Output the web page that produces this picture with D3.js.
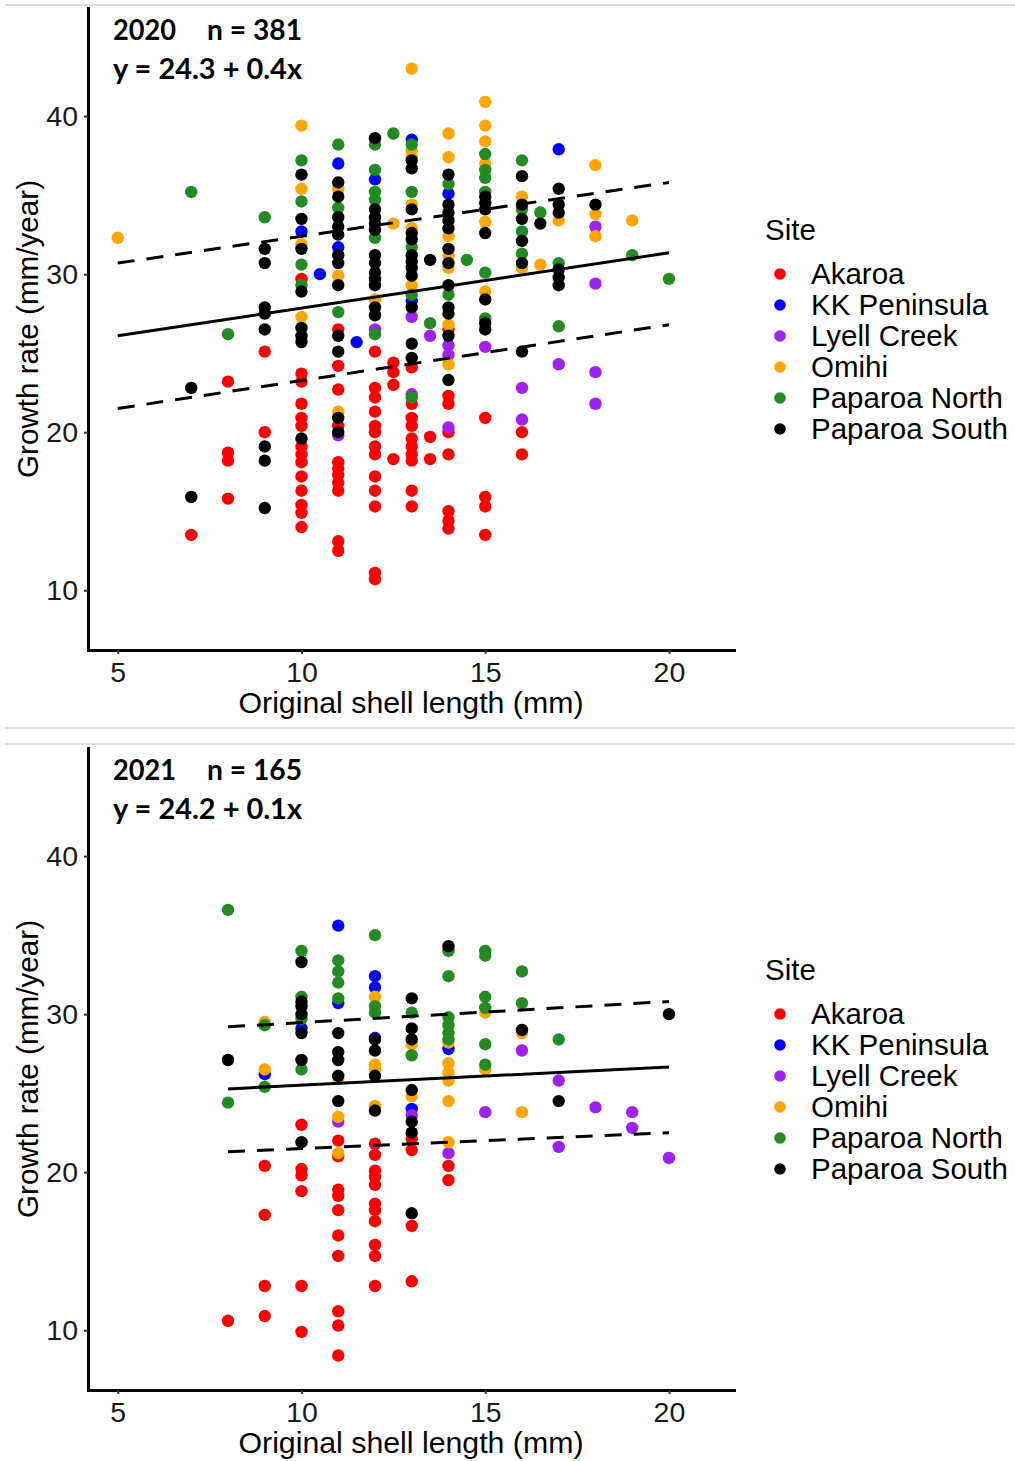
<!DOCTYPE html>
<html>
<head>
<meta charset="utf-8">
<script src="https://cdn.jsdelivr.net/npm/d3@7"></script>
<style>
  body { margin: 0; background: #fff; }
  svg { display: block; }
</style>
</head>
<body>
<svg id="chart" width="1015" height="1461"></svg>
<script>
// ---- data: [shell length, growth rate] ----
const siteNames = ["Akaroa", "KK Peninsula", "Lyell Creek", "Omihi", "Paparoa North", "Paparoa South"];
const siteColors = ["#FF0000", "#0000FF", "#A020F0", "#FFA500", "#228B22", "#000000"];

const akaroa2020 = [
  [7,13.5],[8,23.2],[8,18.7],[8,18.2],[8,15.8],[9,25.1],[9,20.0],
  [10,29.7],[10,23.7],[10,23.2],[10,21.8],[10,20.9],[10,20.4],[10,19.1],[10,18.6],[10,18.1],[10,17.2],[10,16.3],[10,15.4],[10,14.9],[10,14.0],
  [11,26.5],[11,24.2],[11,22.7],[11,20.4],[11,18.1],[11,17.7],[11,17.3],[11,16.8],[11,16.3],[11,13.1],[11,12.5],
  [12,25.1],[12,22.8],[12,22.2],[12,21.3],[12,20.4],[12,20.0],[12,19.1],[12,18.6],[12,17.2],[12,16.3],[12,15.3],[12,11.1],[12,10.7],
  [12.5,24.4],[12.5,23.8],[12.5,23.0],[12.5,18.3],
  [13,24.1],[13,21.8],[13,20.9],[13,20.4],[13,19.6],[13,19.1],[13,18.6],[13,18.2],[13,16.3],[13,15.3],
  [13.5,19.7],[13.5,18.3],
  [14,26.5],[14,22.3],[14,21.8],[14,20.0],[14,18.6],[14,15.0],[14,14.4],[14,13.9],
  [15,20.9],[15,15.9],[15,15.3],[15,13.5],
  [16,20.0],[16,18.6]
];
const kk2020 = [
  [10,32.7],[10.5,30.0],[11,37.0],[11,31.7],[11.5,25.7],[12,36.0],[13,38.5],[13,28.3],[14,35.1],[17,37.9]
];
const lyell2020 = [
  [11,19.8],[12,26.5],[13,27.3],[13,22.4],[13.5,26.1],[14,25.5],[14,24.9],[14,20.3],[15,25.4],
  [16,22.8],[16,20.8],[17,24.3],[18,33.0],[18,29.4],[18,23.8],[18,21.8]
];
const omihi2020 = [
  [5,32.3],[10,39.4],[10,35.4],[10,31.9],[10,27.3],[10,26.0],[11,35.4],[11,29.9],[11,21.3],[12,28.4],[12.5,33.2],
  [13,43.0],[13,37.8],[13,37.4],[13,34.4],[13,32.9],[13,29.3],
  [14,38.9],[14,37.4],[14,32.4],[14,31.2],[14,30.4],[14,26.8],[14,24.3],
  [15,40.9],[15,39.4],[15,38.4],[15,37.0],[15,33.3],[15,28.9],
  [16,34.9],[16,30.4],[16.5,30.6],[17,33.4],[18,36.9],[18,33.8],[18,32.4],[19,33.4]
];
const north2020 = [
  [7,35.2],[8,26.2],[9,33.6],[10,37.2],[10,34.6],[10,30.6],[10,29.3],[11,38.2],[11,34.2],[11,27.6],
  [12,38.2],[12,36.6],[12,35.2],[12,34.7],[12,32.3],[12,26.2],[12.5,38.9],
  [13,38.2],[13,35.2],[13,31.7],[13,28.7],[13,22.2],[13.5,26.9],[14,35.7],[14,28.7],[14.5,30.9],
  [15,37.6],[15,36.6],[15,36.1],[15,35.2],[15,30.1],[15,27.2],
  [16,37.2],[16,34.1],[16,32.7],[16,31.3],[16.5,33.9],[17,30.7],[17,26.7],[19,31.2],[20,29.7]
];
const south2020 = [
  [7,22.8],[7,15.9],[9,31.6],[9,30.7],[9,27.9],[9,27.5],[9,26.5],[9,19.1],[9,18.2],[9,15.2],
  [10,36.3],[10,33.5],[10,31.6],[10,28.9],[10,26.6],[10,26.1],[10,25.7],[10,19.6],
  [11,35.8],[11,34.9],[11,33.6],[11,33.0],[11,32.5],[11,31.2],[11,30.7],[11,29.3],[11,26.1],[11,25.1],[11,20.9],[11,20.0],
  [12,38.6],[12,34.1],[12,33.6],[12,33.2],[12,32.8],[12,31.2],[12,30.7],[12,30.1],[12,29.7],[12,29.3],[12,27.9],[12,27.4],
  [13,37.2],[13,36.7],[13,34.1],[13,32.6],[13,32.2],[13,31.2],[13,30.8],[13,30.4],[13,29.9],[13,27.9],[13,25.6],[13,24.7],
  [13.5,30.9],
  [14,36.3],[14,34.4],[14,33.9],[14,33.4],[14,32.9],[14,31.6],[14,30.7],[14,29.3],[14,27.9],[14,27.5],[14,26.1],[14,23.3],
  [15,34.9],[15,34.5],[15,34.1],[15,32.6],[15,28.4],[15,26.9],[15,26.5],
  [16,36.2],[16,34.4],[16,33.5],[16,32.1],[16,30.7],[16,25.1],[16.5,33.2],
  [17,35.4],[17,34.4],[17,33.9],[17,30.3],[17,29.8],[17,29.3],[18,34.4]
];

const akaroa2021 = [
  [8,10.6],[9,20.4],[9,17.3],[9,12.8],[9,10.9],
  [10,23.0],[10,20.2],[10,19.8],[10,18.8],[10,12.8],[10,9.9],
  [11,22.0],[11,21.0],[11,18.9],[11,18.5],[11,17.6],[11,16.0],[11,14.7],[11,11.2],[11,10.3],[11,8.4],
  [12,21.8],[12,21.1],[12,20.1],[12,19.7],[12,19.2],[12,18.0],[12,17.6],[12,16.9],[12,15.4],[12,14.7],[12,12.8],
  [13,22.1],[13,21.4],[13,16.6],[13,13.1],[14,20.4],[14,19.5]
];
const kk2021 = [
  [9,26.2],[10,29.1],[11,35.6],[11,30.7],[12,32.4],[12,31.7],[12,28.5],[13,24.0],[14,27.8]
];
const lyell2021 = [
  [11,23.2],[13,23.6],[14,21.2],[15,23.8],[16,27.7],[17,25.8],[17,21.6],[18,24.1],[19,23.8],[19,22.8],[20,20.9]
];
const omihi2021 = [
  [9,29.5],[9,26.5],[11,25.9],[11,23.5],[11,21.2],[12,31.1],[12,26.8],[12,26.5],[12,24.2],
  [13,28.1],[13,24.8],[14,28.2],[14,26.9],[14,26.3],[14,25.8],[14,24.5],[14,21.9],
  [15,30.1],[15,26.5],[16,28.8],[16,23.8]
];
const north2021 = [
  [8,36.6],[8,24.4],[9,29.3],[9,25.4],[10,34.0],[10,31.1],[10,29.7],[10,26.5],
  [11,33.4],[11,32.7],[11,32.0],[11,31.0],[12,35.0],[12,30.5],[12,30.1],[13,30.1],[13,27.4],
  [14,34.0],[14,32.4],[14,29.8],[14,29.3],[14,28.8],[14,28.4],
  [15,34.0],[15,33.7],[15,31.1],[15,30.4],[15,28.1],[15,26.8],[16,32.7],[16,30.7],[17,28.4]
];
const south2021 = [
  [8,27.1],[10,33.3],[10,30.8],[10,30.5],[10,30.0],[10,28.8],[10,27.1],[10,21.9],
  [11,28.8],[11,27.6],[11,27.1],[11,26.1],[11,24.5],[12,28.4],[12,27.7],[12,26.1],[12,23.9],
  [13,31.0],[13,29.1],[13,28.4],[13,25.2],[13,23.2],[13,22.5],[13,17.4],
  [14,34.3],[16,29.0],[17,24.5],[20,30.0]
];

// fitted line and the dashed band, end points
const fitX2020 = [5, 20];
const fitMid2020 = [26.1, 31.35];
const fitUpper2020 = [30.7, 35.8];
const fitLower2020 = [21.5, 26.8];
const fitX2021 = [8, 20];
const fitMid2021 = [25.27, 26.66];
const fitUpper2021 = [29.2, 30.8];
const fitLower2021 = [21.3, 22.5];

const yearLabels = ["2020", "2021"];
const nLabels = ["n = 381", "n = 165"];
const eqLabels = ["y = 24.3 + 0.4x", "y = 24.2 + 0.1x"];
const xTicks = [5, 10, 15, 20];
const yTicks = [10, 20, 30, 40];

// ---- layout ----
const axisFont = "'Liberation Sans', Arial, sans-serif";
const headFont = "Lato, 'Open Sans', sans-serif";
const plot = { left: 88, right: 734, top: 8, bottom: 650 };
const panelOffset = 740;

const svg = d3.select("#chart");

// light frame lines between the two pictures
[5, 728, 744].forEach((yy) => {
  svg.append("line")
    .attr("x1", 5).attr("x2", 1015)
    .attr("y1", yy).attr("y2", yy)
    .attr("stroke", "#d3d3d3")
    .attr("stroke-width", 1.5);
});

const x = d3.scaleLinear().domain([4.19, 21.77]).range([plot.left, plot.right]);
const y = d3.scaleLinear().domain([6.22, 46.84]).range([plot.bottom, plot.top]);

const drawPanel = (i, sets, fitX, fitMid, fitUpper, fitLower) => {
  const g = svg.append("g").attr("transform", `translate(0, ${i * panelOffset})`);

  // points, site by site
  sets.forEach((pts, s) => {
    g.append("g")
      .selectAll("circle")
      .data(pts)
      .join("circle")
      .attr("cx", (d) => x(d[0]))
      .attr("cy", (d) => y(d[1]))
      .attr("r", 6.2)
      .attr("fill", siteColors[s]);
  });

  // fit line + dashed band
  const line = d3.line().x((d) => x(d[0])).y((d) => y(d[1]));
  const band = [
    { vals: fitUpper, dash: "17,12" },
    { vals: fitLower, dash: "17,12" },
    { vals: fitMid, dash: null }
  ];
  band.forEach((b) => {
    g.append("path")
      .datum(fitX.map((v, k) => [v, b.vals[k]]))
      .attr("fill", "none")
      .attr("stroke", "#000")
      .attr("stroke-width", 3)
      .attr("stroke-dasharray", b.dash)
      .attr("d", line);
  });

  // axes
  const xAxis = g.append("g")
    .attr("transform", `translate(0, ${plot.bottom})`)
    .call(d3.axisBottom(x).tickValues(xTicks).tickSizeInner(4).tickSizeOuter(0).tickPadding(8));
  const yAxis = g.append("g")
    .attr("transform", `translate(${plot.left}, 0)`)
    .call(d3.axisLeft(y).tickValues(yTicks).tickSizeInner(4).tickSizeOuter(0).tickPadding(6));

  [xAxis, yAxis].forEach((ax) => {
    ax.select(".domain").attr("stroke", "#000").attr("stroke-width", 3).attr("stroke-linecap", "square");
    ax.selectAll(".tick line").attr("stroke", "#333").attr("stroke-width", 2);
    ax.selectAll(".tick text")
      .attr("fill", "#1a1a1a")
      .style("font-family", axisFont)
      .style("font-size", "28.5px");
  });

  // axis titles
  g.append("text")
    .attr("x", (plot.left + plot.right) / 2)
    .attr("y", 713)
    .attr("text-anchor", "middle")
    .attr("textLength", 345)
    .attr("lengthAdjust", "spacingAndGlyphs")
    .style("font-family", axisFont)
    .style("font-size", "29px")
    .text("Original shell length (mm)");

  g.append("text")
    .attr("transform", `translate(38, ${(plot.top + plot.bottom) / 2}) rotate(-90)`)
    .attr("text-anchor", "middle")
    .attr("textLength", 298)
    .attr("lengthAdjust", "spacingAndGlyphs")
    .style("font-family", axisFont)
    .style("font-size", "29.5px")
    .text("Growth rate (mm/year)");

  // header
  const head = g.append("g")
    .style("font-family", headFont)
    .style("font-weight", "bold")
    .style("font-size", "28px")
    .attr("fill", "#000");
  head.append("text").attr("x", 113).attr("y", 40)
    .attr("textLength", 63).attr("lengthAdjust", "spacingAndGlyphs").text(yearLabels[i]);
  head.append("text").attr("x", 207).attr("y", 40)
    .attr("textLength", 95).attr("lengthAdjust", "spacingAndGlyphs").text(nLabels[i]);
  head.append("text").attr("x", 113).attr("y", 79)
    .attr("textLength", 189).attr("lengthAdjust", "spacingAndGlyphs").text(eqLabels[i]);

  // legend
  const leg = g.append("g").style("font-family", axisFont).style("font-size", "29.5px");
  leg.append("text").attr("x", 765).attr("y", 240).text("Site");
  const item = leg.selectAll("g.item")
    .data(siteNames)
    .join("g")
    .attr("class", "item")
    .attr("transform", (d, k) => `translate(0, ${274 + k * 31})`);
  item.append("circle")
    .attr("cx", 780)
    .attr("r", 5.8)
    .attr("fill", (d, k) => siteColors[k]);
  item.append("text")
    .attr("x", 811)
    .attr("y", 10)
    .text((d) => d);
};

drawPanel(0, [akaroa2020, kk2020, lyell2020, omihi2020, north2020, south2020],
  fitX2020, fitMid2020, fitUpper2020, fitLower2020);
drawPanel(1, [akaroa2021, kk2021, lyell2021, omihi2021, north2021, south2021],
  fitX2021, fitMid2021, fitUpper2021, fitLower2021);
</script>
</body>
</html>
